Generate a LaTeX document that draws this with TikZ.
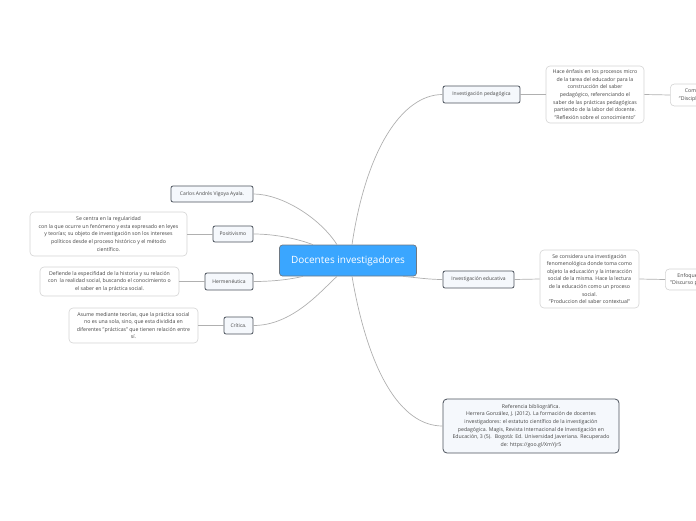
\documentclass[tikz,border=0pt]{standalone}
\usepackage{fontspec}
\setmainfont{Open Sans}
\usetikzlibrary{positioning}
\definecolor{rootblue}{RGB}{58, 166, 255}
\definecolor{rootline}{RGB}{110, 120, 130}
\definecolor{topicline}{RGB}{75, 82, 92}
\definecolor{topicfill}{RGB}{245, 248, 252}
\definecolor{noteline}{RGB}{212, 212, 212}
\definecolor{linkgray}{RGB}{176, 176, 176}
\definecolor{textgray}{RGB}{70, 70, 70}

\tikzset{
  root/.style={draw=rootline, fill=rootblue, rounded corners=3pt, line width=0.7pt,
    minimum width=137pt, minimum height=31pt, text=white, font=\fontsize{10}{12}\selectfont},
  topic/.style={draw=topicline, fill=topicfill, rounded corners=2pt, line width=0.8pt,
    minimum height=17pt, inner xsep=4pt, text=textgray, font=\fontsize{5}{7.5}\selectfont},
  note/.style={draw=noteline, fill=white, rounded corners=4pt, line width=0.6pt,
    align=center, inner sep=3pt, text=textgray, font=\fontsize{5.2}{7.6}\selectfont},
  link/.style={draw=linkgray, line width=0.7pt},
}

\begin{document}
\begin{tikzpicture}[x=1pt, y=-1pt]
\useasboundingbox (0,0) rectangle (696,520);
\clip (0,0) rectangle (696,520);

\node[root] (root) at (348,260.5) {Docentes investigadores};

% rama derecha
\node[topic, minimum width=77pt] (ped) at (481.5,94.5) {Investigación pedagógica};
\node[note, minimum width=98pt, minimum height=57pt] (pednote) at (595,94.5) {Hace énfasis en los procesos micro\\
  de la tarea del educador para la\\ construcción del saber\\ pedagógico, referenciando el\\
  saber de las prácticas pedagógicas\\ partiendo de la labor del docente.\\
  "Reflexión sobre el conocimiento"};
\node[note, minimum width=80pt, minimum height=22pt, anchor=west] (pedsub) at (670,95) {Comprensión teórica\\ "Disciplina reconstructiva"};

\node[topic, minimum width=71pt] (edu) at (478.5,279.5) {Investigación educativa};
\node[note, minimum width=99pt, minimum height=58pt] (edunote) at (589.5,279) {Se considera una investigación\\
  fenomenológica donde toma como\\ objeto la educación y la interacción\\
  social de la misma. Hace la lectura\\ de la educación como un proceso\\ social.\\
  "Produccion del saber contextual"};
\node[note, minimum width=80pt, minimum height=21pt, anchor=west] (edusub) at (665,279.5) {Enfoque hermenéutico\\ "Discurso pedagógico crítico"};

\node[note, draw=topicline, fill=topicfill, line width=0.8pt, minimum width=176pt, minimum height=54pt] (ref) at (531,426) {Referencia bibliográfica.\\
  Herrera González, J. (2012). La formación de docentes\\
  investigadores: el estatuto científico de la investigación\\
  pedagógica. Magis, Revista Internacional de Investigación en\\
  Educación, 3 (5).~ Bogotá: Ed. Universidad Javeriana. Recuperado\\
  de: https://goo.gl/XmYjr5};

% rama izquierda
\node[topic, minimum width=82pt, minimum height=16pt] (autor) at (212,194) {Carlos Andrés Vigoya Ayala.};

\node[topic, minimum width=40pt, minimum height=16pt] (pos) at (233,234) {Positivismo};
\node[note, minimum width=157pt, minimum height=44pt] (posnote) at (108.5,234) {Se centra en la regularidad\\
  con la que ocurre un fenómeno y esta expresado en leyes\\
  y teorías; su objeto de investigación son los intereses\\
  políticos desde el proceso histórico y el método\\ científico.};

\node[topic, minimum width=48pt] (her) at (229,281.5) {Hermenéutica};
\node[note, minimum width=139pt, minimum height=29pt] (hernote) at (109.5,281.5) {Defiende la especifidad de la historia y su relación\\
  con~ la realidad social, buscando el conocimiento o\\ el saber en la práctica social.};

\node[topic, minimum width=29pt] (cri) at (238.5,325.5) {Crítica.};
\node[note, minimum width=129pt, minimum height=35pt] (crinote) at (133.5,325.5) {Asume mediante teorías, que la práctica social\\
  no es una sola, sino, que esta dividida en\\ diferentes "prácticas" que tienen relación entre\\ sí.};

% conectores
\draw[link] ([xshift=4pt]root.north) .. controls (366,150) and (402,94.5) .. (ped.west);
\draw[link] ([xshift=55pt]root.south) .. controls (420,278) and (430,279.5) .. (edu.west);
\draw[link] ([xshift=4pt]root.south) .. controls (368,370) and (400,426) .. (ref.west);
\draw[link] (autor.east) .. controls (282,194) and (320,218) .. ([xshift=-11pt]root.north);
\draw[link] (pos.east) .. controls (276,234) and (298,239) .. ([xshift=-35pt]root.north);
\draw[link] (her.east) .. controls (275,281.5) and (292,279) .. ([xshift=-45pt]root.south);
\draw[link] (cri.east) .. controls (292,325.5) and (320,292) .. ([xshift=-11pt]root.south);
\draw[link] (ped.east) -- (pednote.west);
\draw[link] (pednote.east) -- (pedsub.west);
\draw[link] (edu.east) -- (edunote.west);
\draw[link] (edunote.east) -- (edusub.west);
\draw[link] (pos.west) -- (posnote.east);
\draw[link] (her.west) -- (hernote.east);
\draw[link] (cri.west) -- (crinote.east);
\end{tikzpicture}
\end{document}
